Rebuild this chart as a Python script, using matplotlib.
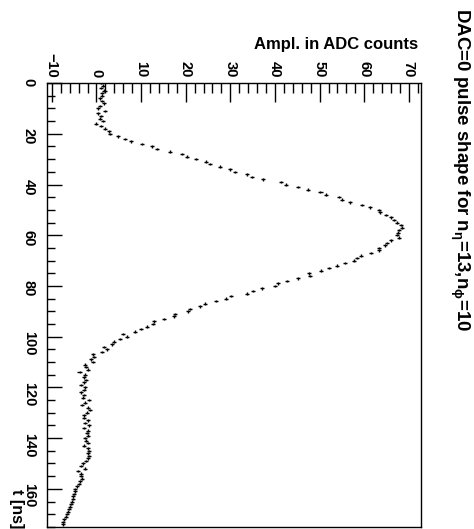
import matplotlib
matplotlib.use('Agg')
matplotlib.rcParams['font.family'] = ['Liberation Sans', 'DejaVu Sans']
matplotlib.rcParams['font.weight'] = 'bold'
matplotlib.rcParams['mathtext.fontset'] = 'custom'
matplotlib.rcParams['mathtext.rm'] = 'Liberation Sans:bold'
matplotlib.rcParams['mathtext.it'] = 'Liberation Sans:bold'
matplotlib.rcParams['mathtext.bf'] = 'Liberation Sans:bold'
import matplotlib.pyplot as plt
from matplotlib.ticker import MultipleLocator

# pulse shape, one sample per ns (t = 0 .. 174)
t_ns = list(range(175))
ampl = [
    1.05, 1.4, 1.05, 1.8, 1.3, 1.2, 0.7, 1.3, 1.7, 0.7,
    0.3, 2.0, 0.45, 1.1, 0.75, 1.4, -0.2, 1.05, 1.95, 2.7,
    3.1, 4.9, 6.3, 7.7, 10.2, 12.4, 13.5, 16.4, 19.2, 20.2,
    22.3, 24.5, 25.5, 27.6, 30.0, 31.1, 33.8, 34.9, 37.4, 41.3,
    42.4, 45.1, 47.5, 50.2, 51.5, 54.3, 55.1, 56.8, 59.6, 61.4,
    63.4, 63.5, 64.9, 66.1, 66.6, 67.3, 68.2, 68.4, 67.8, 67.6,
    67.3, 67.7, 65.9, 65.2, 64.6, 63.2, 63.4, 61.5, 59.3, 58.4,
    57.6, 55.8, 54.0, 52.2, 50.3, 47.6, 47.8, 45.2, 42.7, 40.6,
    39.9, 37.2, 35.0, 33.8, 30.2, 29.1, 26.8, 24.3, 23.3, 20.9,
    20.5, 17.7, 17.3, 15.2, 12.9, 12.6, 11.4, 10.0, 8.7, 5.9,
    6.8, 5.2, 4.0, 3.4, 1.6, 2.4, 1.2, -0.7, -0.5, -1.3,
    -0.7, -2.6, -2.3, -2.0, -3.8, -2.5, -2.7, -2.4, -2.8, -3.4,
    -2.5, -2.9, -3.4, -2.8, -3.1, -1.7, -2.5, -3.2, -2.0, -1.5,
    -2.2, -2.9, -2.8, -2.0, -2.6, -1.6, -2.7, -1.8, -2.1, -2.0,
    -2.6, -2.3, -1.9, -2.9, -1.8, -1.6, -2.0, -1.7, -2.0, -2.4,
    -3.1, -3.5, -2.6, -4.2, -3.4, -3.4, -3.3, -3.6, -4.0, -4.4,
    -4.7, -4.9, -5.1, -5.3, -5.3, -5.5, -5.8, -6.0, -6.1, -6.4,
    -6.7, -6.9, -7.2, -7.4, -7.6,
]

title = r'DAC=0 pulse shape for n$_{\eta}$=13,n$_{\phi}$=10'

fig = plt.figure(figsize=(4.74, 5.29), dpi=100)
ax = fig.add_axes([0.099, 0.004, 0.789, 0.839])

# the picture is the usual ROOT plot turned by 90 degrees:
# amplitude runs left->right along the top, time runs downwards
ax.errorbar(ampl, t_ns, xerr=0.45, yerr=0.5, fmt='none',
            ecolor='black', elinewidth=1.0, capsize=0)

ax.set_xlim(-11.1, 72.7)
ax.set_ylim(175, 0)

ax.xaxis.set_major_locator(MultipleLocator(10))
ax.xaxis.set_minor_locator(MultipleLocator(2))
ax.yaxis.set_major_locator(MultipleLocator(20))
ax.yaxis.set_minor_locator(MultipleLocator(5))

ax.tick_params(axis='x', which='both', top=True, bottom=False,
               labeltop=True, labelbottom=False, direction='in')
ax.tick_params(axis='y', which='both', left=True, right=False,
               direction='in')
ax.tick_params(axis='x', which='major', length=14, width=1, pad=4, labelsize=10.5)
ax.tick_params(axis='x', which='minor', length=7, width=1)
ax.tick_params(axis='y', which='major', length=11, width=1, pad=8, labelsize=10.5)
ax.tick_params(axis='y', which='minor', length=5.5, width=1)

for lab in ax.get_xticklabels():
    lab.set_rotation(-90)
    lab.set_fontweight('bold')
for lab in ax.get_yticklabels():
    lab.set_rotation(-90)
    lab.set_fontweight('bold')

for sp in ax.spines.values():
    sp.set_linewidth(1.0)

fig.text(418 / 474, 1 - 44 / 529, 'Ampl. in ADC counts', ha='right', va='center',
         fontsize=12, fontweight='bold')
fig.text(16 / 474, 1 - 528 / 529, 't [ns]', ha='center', va='bottom',
         rotation=-90, fontsize=11.5, fontweight='bold')
fig.text(460 / 474, 1 - 8 / 529, title, ha='center', va='top',
         rotation=-90, fontsize=13.5, fontweight='bold')

fig.savefig('out.png', dpi=100)
